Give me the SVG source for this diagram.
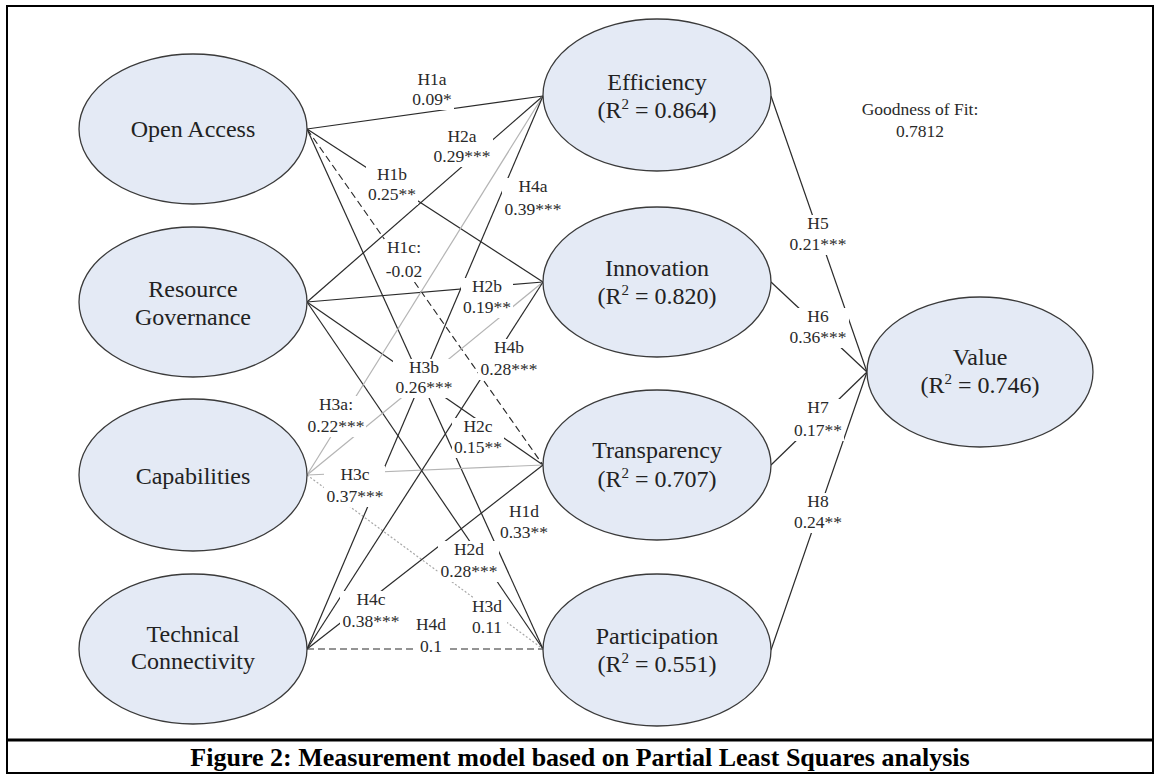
<svg xmlns="http://www.w3.org/2000/svg" width="1160" height="778" viewBox="0 0 1160 778">
<defs>
<style>
.node ellipse{fill:#e4eaf5;stroke:#3a3a3a;stroke-width:1.3}
.nt{font-family:'Liberation Serif','Times New Roman',serif;font-size:24px;fill:#222;text-anchor:middle}
.sup{font-size:15px}
.c{stroke:#2a2a2a;stroke-width:1.2;fill:none}
.g{stroke:#b4b4b4;stroke-width:1.2;fill:none}
.dash{stroke-dasharray:7 4}
.dot{stroke:#a8a8a8;stroke-dasharray:2 2}
.lb rect{fill:#fff}
.lt{font-family:'Liberation Serif','Times New Roman',serif;font-size:17.5px;fill:#2a2a2a;text-anchor:middle}
</style>
</defs>
<rect x="0" y="0" width="1160" height="778" fill="#fff"/>
<rect x="7" y="6" width="1146" height="767" fill="none" stroke="#000" stroke-width="2"/>
<line x1="6" y1="740" x2="1154" y2="740" stroke="#000" stroke-width="3"/>

<g id="connectors">
<line class="c" x1="307" y1="129" x2="543" y2="96"/>
<line class="c" x1="307" y1="129" x2="543" y2="282"/>
<line class="c dash" x1="307" y1="129" x2="543" y2="465"/>
<line class="c" x1="307" y1="129" x2="543" y2="649"/>
<line class="c" x1="307" y1="302" x2="543" y2="96"/>
<line class="c" x1="307" y1="302" x2="543" y2="282"/>
<line class="c" x1="307" y1="302" x2="543" y2="465"/>
<line class="c" x1="307" y1="302" x2="543" y2="649"/>
<line class="g" x1="307" y1="475" x2="543" y2="96"/>
<line class="g" x1="307" y1="475" x2="543" y2="282"/>
<line class="g" x1="307" y1="475" x2="543" y2="465"/>
<line class="g dot" x1="307" y1="475" x2="543" y2="649"/>
<line class="c" x1="307" y1="649" x2="543" y2="96"/>
<line class="c" x1="307" y1="649" x2="543" y2="282"/>
<line class="c" x1="307" y1="649" x2="543" y2="465"/>
<line class="c dash" x1="307" y1="649" x2="543" y2="649"/>
<line class="c" x1="771" y1="96" x2="867" y2="372"/>
<line class="c" x1="771" y1="282" x2="867" y2="372"/>
<line class="c" x1="771" y1="465" x2="867" y2="372"/>
<line class="c" x1="771" y1="650" x2="867" y2="372"/>
</g>

<g id="labels" class="lb">
<g id="l-H1a"><rect x="410" y="71" width="44" height="39"/><text class="lt" x="432" y="85">H1a</text><text class="lt" x="432" y="105">0.09*</text></g>
<g id="l-H1b"><rect x="366" y="166" width="52" height="39"/><text class="lt" x="392" y="180">H1b</text><text class="lt" x="392" y="200">0.25**</text></g>
<g id="l-H1c"><rect x="384" y="239" width="40" height="43"/><text class="lt" x="404" y="253">H1c:</text><text class="lt" x="404" y="277">-0.02</text></g>
<g id="l-H1d"><rect x="498" y="503" width="52" height="40"/><text class="lt" x="524" y="517">H1d</text><text class="lt" x="524" y="538">0.33**</text></g>
<g id="l-H2a"><rect x="432" y="128" width="61" height="39"/><text class="lt" x="462" y="142">H2a</text><text class="lt" x="462" y="162">0.29***</text></g>
<g id="l-H2b"><rect x="461" y="278" width="52" height="40"/><text class="lt" x="487" y="292">H2b</text><text class="lt" x="487" y="313">0.19**</text></g>
<g id="l-H2c"><rect x="452" y="418" width="52" height="40"/><text class="lt" x="478" y="432">H2c</text><text class="lt" x="478" y="453">0.15**</text></g>
<g id="l-H2d"><rect x="438" y="541" width="61" height="41"/><text class="lt" x="469" y="555">H2d</text><text class="lt" x="469" y="577">0.28***</text></g>
<g id="l-H3a"><rect x="305" y="396" width="61" height="41"/><text class="lt" x="336" y="410">H3a:</text><text class="lt" x="336" y="432">0.22***</text></g>
<g id="l-H3b"><rect x="393" y="359" width="61" height="39"/><text class="lt" x="424" y="373">H3b</text><text class="lt" x="424" y="393">0.26***</text></g>
<g id="l-H3c"><rect x="324" y="466" width="61" height="41"/><text class="lt" x="355" y="480">H3c</text><text class="lt" x="355" y="502">0.37***</text></g>
<g id="l-H3d"><rect x="468" y="598" width="39" height="40"/><text class="lt" x="487" y="612">H3d</text><text class="lt" x="487" y="633">0.11</text></g>
<g id="l-H4a"><rect x="502" y="178" width="61" height="42"/><text class="lt" x="533" y="192">H4a</text><text class="lt" x="533" y="215">0.39***</text></g>
<g id="l-H4b"><rect x="478" y="339" width="61" height="41"/><text class="lt" x="509" y="353">H4b</text><text class="lt" x="509" y="375">0.28***</text></g>
<g id="l-H4c"><rect x="340" y="591" width="61" height="41"/><text class="lt" x="371" y="605">H4c</text><text class="lt" x="371" y="627">0.38***</text></g>
<g id="l-H4d"><rect x="413" y="616" width="36" height="41"/><text class="lt" x="431" y="630">H4d</text><text class="lt" x="431" y="652">0.1</text></g>
<g id="l-H5"><rect x="788" y="215" width="61" height="40"/><text class="lt" x="818" y="229">H5</text><text class="lt" x="818" y="250">0.21***</text></g>
<g id="l-H6"><rect x="788" y="308" width="61" height="40"/><text class="lt" x="818" y="322">H6</text><text class="lt" x="818" y="343">0.36***</text></g>
<g id="l-H7"><rect x="792" y="399" width="52" height="42"/><text class="lt" x="818" y="413">H7</text><text class="lt" x="818" y="436">0.17**</text></g>
<g id="l-H8"><rect x="792" y="493" width="52" height="40"/><text class="lt" x="818" y="507">H8</text><text class="lt" x="818" y="528">0.24**</text></g>
</g>

<g id="n-open-access" class="node"><ellipse cx="193" cy="129" rx="114" ry="75"/><text class="nt" x="193" y="137">Open Access</text></g>
<g id="n-resource-governance" class="node"><ellipse cx="193" cy="302" rx="114" ry="75"/><text class="nt" x="193" y="297">Resource</text><text class="nt" x="193" y="325">Governance</text></g>
<g id="n-capabilities" class="node"><ellipse cx="193" cy="475" rx="114" ry="76"/><text class="nt" x="193" y="484">Capabilities</text></g>
<g id="n-technical-connectivity" class="node"><ellipse cx="193" cy="649" rx="114" ry="75"/><text class="nt" x="193" y="642">Technical</text><text class="nt" x="193" y="669">Connectivity</text></g>

<g id="n-efficiency" class="node"><ellipse cx="657" cy="95" rx="114" ry="76"/><text class="nt" x="657" y="90">Efficiency</text><text class="nt" x="657" y="118">(R<tspan class="sup" dy="-9">2</tspan><tspan dy="9"> = 0.864)</tspan></text></g>
<g id="n-innovation" class="node"><ellipse cx="657" cy="282" rx="114" ry="75"/><text class="nt" x="657" y="276">Innovation</text><text class="nt" x="657" y="304">(R<tspan class="sup" dy="-9">2</tspan><tspan dy="9"> = 0.820)</tspan></text></g>
<g id="n-transparency" class="node"><ellipse cx="657" cy="465" rx="114" ry="75"/><text class="nt" x="657" y="458">Transparency</text><text class="nt" x="657" y="487">(R<tspan class="sup" dy="-9">2</tspan><tspan dy="9"> = 0.707)</tspan></text></g>
<g id="n-participation" class="node"><ellipse cx="657" cy="650" rx="114" ry="76"/><text class="nt" x="657" y="644">Participation</text><text class="nt" x="657" y="672">(R<tspan class="sup" dy="-9">2</tspan><tspan dy="9"> = 0.551)</tspan></text></g>

<g id="n-value" class="node"><ellipse cx="980" cy="372" rx="113" ry="75"/><text class="nt" x="980" y="365">Value</text><text class="nt" x="980" y="393">(R<tspan class="sup" dy="-9">2</tspan><tspan dy="9"> = 0.746)</tspan></text></g>

<g id="goodness-of-fit"><text class="lt" x="920" y="115">Goodness of Fit:</text><text class="lt" x="920" y="137">0.7812</text></g>

<text x="580" y="766" font-family="'Liberation Serif','Times New Roman',serif" font-weight="bold" font-size="26" text-anchor="middle" fill="#000">Figure 2: Measurement model based on Partial Least Squares analysis</text>
</svg>
